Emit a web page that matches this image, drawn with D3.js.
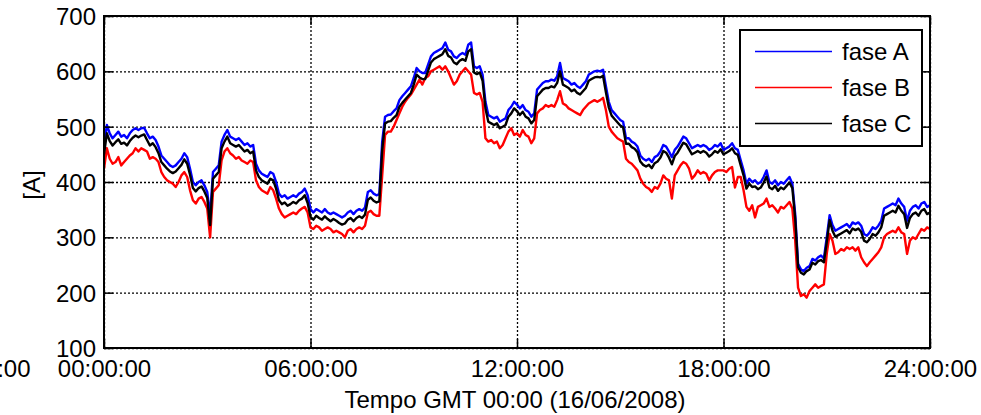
<!DOCTYPE html>
<html>
<head>
<meta charset="utf-8">
<script src="https://cdn.jsdelivr.net/npm/d3@7/dist/d3.min.js"></script>
<style>
  html, body { margin: 0; padding: 0; background: #fff; }
  svg { display: block; }
  text { font-family: "Liberation Sans", Arial, Helvetica, sans-serif; fill: #000; }
</style>
</head>
<body>
<svg id="chart" width="981" height="415"></svg>
<script>
// Phase currents sampled every 5 minutes over the day, 00:00 to 24:00 (12 samples per row = 1 hour)
const stepMinutes = 5;

const faseA = [
  464, 503, 488, 479, 485, 491, 482, 485, 479, 488, 494, 497,
  494, 497, 498, 488, 479, 482, 476, 464, 448, 442, 436, 430,
  427, 430, 436, 442, 452, 445, 424, 400, 394, 400, 403, 394,
  382, 339, 418, 424, 430, 473, 485, 494, 482, 479, 476, 479,
  473, 467, 470, 464, 467, 433, 421, 415, 412, 409, 418, 415,
  400, 379, 373, 376, 370, 373, 376, 373, 379, 382, 388, 376,
  351, 345, 351, 348, 345, 351, 345, 342, 345, 342, 339, 336,
  339, 345, 348, 342, 348, 351, 348, 354, 382, 385, 379, 376,
  378, 473, 518, 521, 522, 528, 533, 548, 555, 561, 567, 573,
  588, 606, 600, 597, 597, 612, 627, 633, 636, 639, 642, 652,
  639, 636, 627, 624, 630, 633, 630, 648, 652, 609, 606, 609,
  594, 545, 521, 518, 515, 518, 509, 512, 515, 530, 536, 545,
  540, 533, 539, 530, 527, 518, 524, 567, 573, 579, 582, 582,
  585, 583, 591, 615, 588, 585, 582, 576, 579, 573, 570, 576,
  582, 594, 597, 600, 601, 600, 603, 573, 545, 530, 524, 518,
  512, 509, 479, 479, 473, 470, 464, 448, 442, 439, 442, 436,
  445, 448, 455, 467, 464, 455, 445, 458, 464, 473, 482, 479,
  470, 461, 464, 467, 464, 467, 464, 458, 461, 467, 464, 470,
  458, 461, 464, 470, 461, 458, 439, 421, 397, 406, 400, 403,
  397, 400, 409, 421, 400, 397, 403, 394, 400, 397, 403, 409,
  397, 342, 252, 242, 239, 245, 248, 261, 258, 264, 267, 262,
  300, 340, 322, 312, 315, 318, 321, 324, 318, 327, 324, 327,
  321, 306, 303, 309, 318, 315, 321, 330, 352, 355, 358, 361,
  358, 370, 361, 355, 330, 348, 355, 358, 352, 361, 364, 355,
  358
];

const faseB = [
  424, 461, 442, 433, 436, 445, 430, 436, 442, 448, 452, 461,
  455, 461, 458, 455, 442, 445, 442, 436, 418, 409, 403, 400,
  397, 391, 400, 412, 418, 409, 385, 367, 361, 370, 373, 364,
  352, 300, 382, 388, 394, 439, 455, 461, 452, 448, 442, 445,
  439, 436, 433, 439, 436, 403, 391, 385, 382, 379, 391, 385,
  370, 352, 342, 336, 339, 342, 345, 342, 348, 352, 355, 345,
  318, 315, 321, 318, 312, 315, 318, 315, 309, 312, 309, 306,
  300, 312, 315, 309, 315, 318, 315, 321, 345, 348, 342, 339,
  339, 412, 485, 491, 491, 500, 512, 524, 536, 545, 552, 558,
  567, 576, 585, 576, 588, 591, 600, 603, 606, 609, 603, 609,
  600, 588, 576, 582, 594, 600, 606, 600, 594, 561, 558, 561,
  545, 479, 473, 476, 470, 473, 461, 467, 479, 491, 497, 485,
  488, 482, 494, 485, 482, 470, 479, 524, 530, 533, 539, 536,
  539, 536, 548, 564, 542, 539, 533, 530, 527, 524, 521, 530,
  536, 542, 545, 548, 545, 548, 552, 530, 500, 491, 485, 479,
  476, 473, 442, 436, 433, 427, 421, 406, 397, 391, 388, 382,
  391, 388, 397, 412, 406, 403, 370, 412, 421, 430, 436, 433,
  424, 406, 412, 421, 415, 418, 415, 403, 412, 418, 421, 421,
  421, 418, 424, 427, 390, 409, 409, 385, 355, 348, 358, 336,
  355, 358, 361, 370, 355, 358, 352, 345, 355, 352, 358, 364,
  352, 294, 209, 194, 197, 191, 203, 209, 215, 209, 212, 215,
  270, 306, 294, 270, 273, 279, 276, 282, 279, 282, 276, 282,
  264, 255, 248, 255, 261, 267, 273, 282, 300, 306, 309, 312,
  309, 318, 309, 306, 270, 294, 300, 297, 306, 315, 312, 318,
  315
];

const faseC = [
  450, 488, 474, 466, 472, 477, 469, 471, 466, 474, 480, 484,
  481, 484, 486, 476, 466, 470, 463, 452, 436, 430, 424, 419,
  416, 419, 425, 431, 441, 433, 413, 389, 383, 389, 392, 383,
  371, 322, 406, 412, 418, 461, 473, 482, 470, 467, 464, 467,
  461, 455, 458, 452, 455, 421, 409, 403, 400, 397, 406, 403,
  388, 367, 360, 363, 357, 360, 364, 361, 367, 370, 376, 362,
  337, 332, 339, 335, 332, 338, 333, 329, 333, 330, 326, 323,
  325, 332, 335, 329, 335, 338, 335, 341, 368, 372, 366, 363,
  365, 458, 506, 509, 510, 516, 521, 536, 543, 549, 555, 561,
  576, 594, 589, 586, 586, 601, 616, 622, 625, 628, 631, 640,
  628, 625, 616, 613, 619, 622, 619, 636, 640, 598, 595, 598,
  583, 533, 509, 506, 503, 506, 497, 500, 503, 518, 524, 533,
  528, 521, 527, 518, 515, 506, 512, 555, 561, 567, 570, 570,
  573, 571, 579, 600, 576, 573, 570, 564, 567, 561, 558, 564,
  570, 583, 586, 589, 590, 589, 592, 562, 535, 520, 514, 508,
  502, 499, 469, 469, 463, 460, 454, 437, 431, 428, 431, 425,
  434, 437, 444, 456, 453, 444, 432, 447, 453, 462, 471, 468,
  459, 450, 453, 456, 453, 456, 453, 446, 450, 456, 453, 459,
  450, 453, 456, 461, 452, 449, 430, 412, 388, 397, 391, 392,
  387, 390, 399, 410, 390, 387, 393, 384, 390, 387, 393, 399,
  389, 334, 246, 236, 233, 239, 242, 254, 251, 257, 259, 255,
  291, 331, 312, 301, 304, 307, 310, 313, 307, 316, 313, 316,
  310, 294, 291, 297, 306, 303, 309, 318, 339, 342, 345, 348,
  345, 357, 348, 342, 317, 335, 342, 345, 339, 348, 351, 342,
  345
];

const seriesNames = ["fase A", "fase B", "fase C"];
const seriesColors = ["#0000ff", "#ff0000", "#000000"];

const xTickHours = [0, 6, 12, 18, 24];
const xTickLabels = ["00:00:00", "06:00:00", "12:00:00", "18:00:00", "24:00:00"];
const prevDayLabel = "18:00:00";
const yTicks = [100, 200, 300, 400, 500, 600, 700];

const xTitle = "Tempo GMT 00:00 (16/06/2008)";
const yTitle = "[A]";

// ---- layout ----
const plot = { left: 104, right: 930, top: 16, bottom: 348 };
const svg = d3.select("#chart");

const x = d3.scaleLinear().domain([0, 24]).range([plot.left, plot.right]);
const y = d3.scaleLinear().domain([100, 700]).range([plot.bottom, plot.top]);

const hourOf = i => i * stepMinutes / 60;
const FONT = 24;

// grid lines (dotted)
const grid = svg.append("g");
grid.append("g")
  .attr("transform", `translate(0,${plot.bottom})`)
  .call(d3.axisBottom(x).tickValues(xTickHours).tickSize(-(plot.bottom - plot.top)).tickFormat(""))
  .call(g => g.select(".domain").remove())
  .call(g => g.selectAll("line").attr("stroke", "#000").attr("stroke-width", 1.3).attr("stroke-dasharray", "2,2"));
grid.append("g")
  .attr("transform", `translate(${plot.left},0)`)
  .call(d3.axisLeft(y).tickValues(yTicks).tickSize(-(plot.right - plot.left)).tickFormat(""))
  .call(g => g.select(".domain").remove())
  .call(g => g.selectAll("line").attr("stroke", "#000").attr("stroke-width", 1.3).attr("stroke-dasharray", "2,2"));

// data lines
const line = d3.line()
  .x((d, i) => x(hourOf(i)))
  .y(d => y(d));

svg.append("clipPath").attr("id", "plotclip")
  .append("rect")
  .attr("x", plot.left).attr("y", plot.top)
  .attr("width", plot.right - plot.left).attr("height", plot.bottom - plot.top);

const lines = svg.append("g").attr("clip-path", "url(#plotclip)");
[faseA, faseB, faseC].forEach((s, k) => {
  lines.append("path")
    .datum(s)
    .attr("fill", "none")
    .attr("stroke", seriesColors[k])
    .attr("stroke-width", 2.4)
    .attr("stroke-linejoin", "round")
    .attr("d", line);
});

// axes with inward ticks on all four sides
const tickLen = 9;
function styleAxis(g) {
  g.select(".domain").remove();
  g.selectAll("line").attr("stroke", "#000").attr("stroke-width", 1.5);
  g.selectAll("text").style("font-size", FONT + "px").attr("fill", "#000");
}
svg.append("g")
  .attr("transform", `translate(${plot.left},0)`)
  .call(d3.axisLeft(y).tickValues(yTicks).tickSize(-tickLen).tickPadding(8).tickFormat(d3.format("d")))
  .call(styleAxis)
  .call(g => g.selectAll("text").attr("dy", "0.36em"));
svg.append("g")
  .attr("transform", `translate(${plot.right},0)`)
  .call(d3.axisRight(y).tickValues(yTicks).tickSize(-tickLen).tickFormat(""))
  .call(styleAxis);
svg.append("g")
  .attr("transform", `translate(0,${plot.bottom})`)
  .call(d3.axisBottom(x).tickValues(xTickHours).tickSize(-tickLen).tickPadding(12)
    .tickFormat((d, i) => xTickLabels[i]))
  .call(styleAxis);
svg.append("g")
  .attr("transform", `translate(0,${plot.top})`)
  .call(d3.axisTop(x).tickValues(xTickHours).tickSize(-tickLen).tickFormat(""))
  .call(styleAxis);

// previous-day label sitting left of the axis, mostly outside the page
svg.append("text")
  .attr("x", 30.5).attr("y", 377)
  .attr("text-anchor", "end")
  .style("font-size", FONT + "px")
  .text(prevDayLabel);

// frame
svg.append("rect")
  .attr("x", plot.left).attr("y", plot.top)
  .attr("width", plot.right - plot.left).attr("height", plot.bottom - plot.top)
  .attr("fill", "none").attr("stroke", "#000").attr("stroke-width", 2);

// axis titles
svg.append("text")
  .attr("x", (plot.left + plot.right) / 2 - 2).attr("y", 408)
  .attr("text-anchor", "middle")
  .style("font-size", FONT + "px")
  .text(xTitle);
svg.append("text")
  .attr("transform", `translate(40,185) rotate(-90)`)
  .attr("text-anchor", "middle")
  .style("font-size", FONT + "px")
  .text(yTitle);

// legend
const legend = svg.append("g");
legend.append("rect")
  .attr("x", 740).attr("y", 30).attr("width", 182).attr("height", 116)
  .attr("fill", "#fff").attr("stroke", "#000").attr("stroke-width", 2);
const rowY = [51.5, 87.5, 123.5];
seriesNames.forEach((name, k) => {
  legend.append("line")
    .attr("x1", 755).attr("x2", 832)
    .attr("y1", rowY[k]).attr("y2", rowY[k])
    .attr("stroke", seriesColors[k]).attr("stroke-width", 1.6);
  legend.append("text")
    .attr("x", 842).attr("y", rowY[k])
    .attr("dy", "0.36em")
    .style("font-size", FONT + "px")
    .text(name);
});
</script>
</body>
</html>
